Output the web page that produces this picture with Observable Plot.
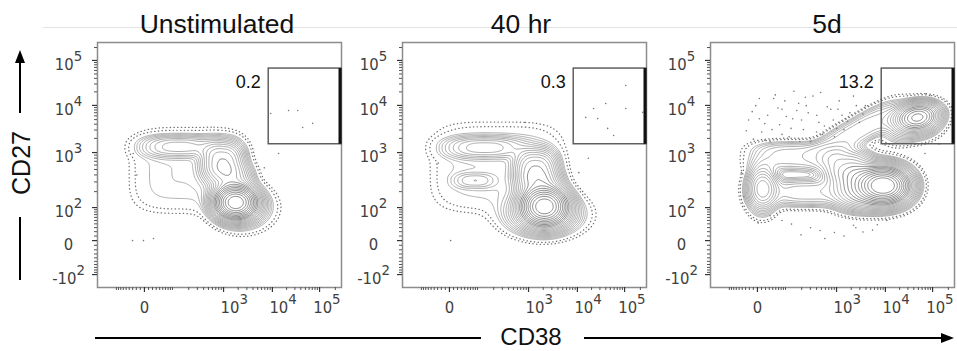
<!DOCTYPE html>
<html><head><meta charset="utf-8">
<script src="https://cdn.jsdelivr.net/npm/d3@7"></script>
<script src="https://cdn.jsdelivr.net/npm/@observablehq/plot@0.6"></script>
<style>
body{margin:0;background:#fff;}
#chart{position:relative;width:957px;height:351px;overflow:hidden;background:#fff;}
</style></head><body><div id="chart"></div>
<script>
// ---------------- data ----------------
const panelTitles = ["Unstimulated", "40 hr", "5d"];
const gatePercents = ["0.2", "0.3", "13.2"];
const gateCD38 = [8400, 262144];   // raw fluorescence
const gateCD27 = [1500, 66000];

// logicle-like display calibration (raw value -> display channel 0..1024)
const cd38CalValues   = [-100, 0, 100, 1e3, 1e4, 1e5, 262144];
const cd38CalChannels = [71, 197, 323, 529, 734, 932, 1024];
const cd27CalValues   = [-100, 0, 100, 1e3, 1e4, 1e5, 262144];
const cd27CalChannels = [54, 196, 334, 564, 761, 949, 1024];

const cd38TickValues = [0, 1e3, 1e4, 1e5];
const cd38TickLabels = ["0", "10^3", "10^4", "10^5"];
const cd27TickValues = [-100, 0, 100, 1e3, 1e4, 1e5];
const cd27TickLabels = ["-10^2", "0", "10^2", "10^3", "10^4", "10^5"];

// cell populations per sample, in display channels (CD38 x, CD27 y)
// Unstimulated: core, secondary, bridge, upper lobe, plateau, halo
const unstimCenterCD38 = [580, 525, 567, 340, 378, 609];
const unstimCenterCD27 = [355, 523, 439, 589, 489, 334];
const unstimSpreadCD38 = [42, 55, 55, 101, 189, 67];
const unstimSpreadCD27 = [33, 54, 50, 29, 138, 50];
const unstimWeight     = [1, 0.1, 0.05, 0.03, 0.007, 0.03];
const unstimShape      = [2, 2.5, 2.5, 2.5, 4, 2];
const unstimTilt       = [0, 0, 0, 0, 0, 0];

// 40 hr: core, halo, secondary, bridge, upper lobe, tongue, plateau
const hr40CenterCD38 = [596, 588, 559, 580, 344, 302, 399];
const hr40CenterCD27 = [339, 305, 489, 414, 585, 447, 502];
const hr40SpreadCD38 = [46, 84, 55, 59, 109, 59, 218];
const hr40SpreadCD27 = [38, 46, 54, 50, 29, 21, 146];
const hr40Weight     = [1, 0.06, 0.1, 0.05, 0.03, 0.012, 0.007];
const hr40Shape      = [2, 2, 2.5, 2.5, 2.5, 2.5, 4];
const hr40Tilt       = [0, 0, 0, 0, 0, 0, 0];

// 5 d: main peak, main broad, upper-left ext, left peak, horizontal band, top-right, band A, band B, top-right halo
const d5CenterCD38 = [727, 672, 567, 218, 399, 869, 357, 609, 840];
const d5CenterCD27 = [426, 425, 510, 414, 397, 711, 548, 648, 690];
const d5SpreadCD38 = [50, 92, 67, 34, 118, 46, 134, 147, 76];
const d5SpreadCD27 = [33, 58, 46, 50, 38, 29, 44, 42, 50];
const d5Weight     = [1, 0.2, 0.06, 0.1, 0.03, 0.3, 0.022, 0.022, 0.03];
const d5Shape      = [2, 2.5, 2.5, 2, 2.5, 2, 3, 3, 2.5];
const d5Tilt       = [0, 0, 0, 0, 0, 10, 0, 30, 10];

// isolated events (display channels)
const unstimDotsCD38 = [802, 840, 861, 903, 727, 147, 193, 235, 760, 700, 150, 165];
const unstimDotsCD27 = [740, 740, 669, 686, 727, 196, 196, 205, 560, 500, 560, 470];
const hr40DotsCD38 = [937, 802, 853, 937, 1008, 819, 861, 886, 769, 202, 780, 740, 150];
const hr40DotsCD27 = [844, 748, 769, 748, 732, 706, 665, 635, 711, 196, 540, 480, 520];
const d5DotsCD38 = [160, 190, 215, 240, 265, 290, 300, 330, 345, 370, 390, 410, 430, 455, 470, 490, 515, 540, 560, 585, 600, 625, 650, 250, 420, 180, 520, 350,
                    175, 205, 228, 258, 283, 318, 338, 362, 382, 402, 446, 478, 505, 530, 552, 575, 612, 640, 205, 272, 312, 398, 462, 535, 150, 228, 300, 375, 445,
                    300, 420, 520, 600, 680, 250, 740, 380, 130, 140, 900, 960, 340, 460, 560, 640, 700, 200, 480, 610];
const d5DotsCD27 = [700, 760, 650, 720, 790, 680, 745, 630, 705, 770, 660, 730, 800, 690, 640, 755, 700, 780, 660, 730, 800, 690, 760, 610, 610, 620, 630, 820,
                    735, 705, 685, 660, 750, 715, 665, 740, 700, 760, 720, 675, 745, 665, 720, 695, 760, 725, 790, 805, 780, 795, 815, 745, 655, 615, 640, 610, 650,
                    280, 250, 230, 260, 240, 300, 280, 220, 480, 380, 560, 600, 265, 238, 215, 232, 262, 270, 205, 250];

const contourLevels = [];
for (let l = 0.78; l > 0.0045; l *= 0.78) contourLevels.push(l);
const sparseLevels = [0.0028, 0.0017];

// ---------------- helpers ----------------
const g = v => Math.asinh(v / 50);
const sx38 = d3.scaleLinear().domain(cd38CalValues.map(g)).range(cd38CalChannels);
const sy27 = d3.scaleLinear().domain(cd27CalValues.map(g)).range(cd27CalChannels);
const toX = v => sx38(g(v));
const toY = v => sy27(g(v));

function comps(cx, cy, sx, sy, w, p, t) {
  return cx.map((_, i) => ({cx: cx[i], cy: cy[i], sx: sx[i], sy: sy[i], w: w[i], p: p[i], a: t[i] * Math.PI / 180}));
}
const samples = [
  {pct: gatePercents[0], comps: comps(unstimCenterCD38, unstimCenterCD27, unstimSpreadCD38, unstimSpreadCD27, unstimWeight, unstimShape, unstimTilt), dx: unstimDotsCD38, dy: unstimDotsCD27},
  {pct: gatePercents[1], comps: comps(hr40CenterCD38, hr40CenterCD27, hr40SpreadCD38, hr40SpreadCD27, hr40Weight, hr40Shape, hr40Tilt), dx: hr40DotsCD38, dy: hr40DotsCD27},
  {pct: gatePercents[2], comps: comps(d5CenterCD38, d5CenterCD27, d5SpreadCD38, d5SpreadCD27, d5Weight, d5Shape, d5Tilt), dx: d5DotsCD38, dy: d5DotsCD27}
];

function density(cs, x, y) {
  let s = 0;
  for (const c of cs) {
    const dx = x - c.cx, dy = y - c.cy, ca = Math.cos(c.a), sa = Math.sin(c.a);
    const u = (dx * ca + dy * sa) / c.sx, v = (-dx * sa + dy * ca) / c.sy;
    s += c.w * Math.exp(-0.5 * (Math.pow(Math.abs(u), c.p) + Math.pow(Math.abs(v), c.p)));
  }
  return s;
}
const N = 256;
function grid(cs) {
  const vals = new Array(N * N);
  for (let j = 0; j < N; j++) {
    const y = (j + 0.5) * 1024 / N;
    for (let i = 0; i < N; i++) vals[j * N + i] = density(cs, (i + 0.5) * 1024 / N, y);
  }
  return vals;
}

const minorRaw = [];
for (let v = -90; v <= 90; v += 10) if (v !== 0) minorRaw.push(v);
for (const e of [100, 1000, 10000]) for (let m = 2; m <= 9; m++) minorRaw.push(m * e);
minorRaw.push(200000);

const tickFont = '"DejaVu Sans Condensed","DejaVu Sans",sans-serif';
const sansFont = '"Liberation Sans",Arial,sans-serif';
const frameLefts = [97, 402, 710];
const ML = 58, MT = 6;
const chart = document.getElementById("chart");

const ns = "http://www.w3.org/2000/svg";
const ov = d3.select(chart).append("svg").attr("width", 957).attr("height", 351)
  .style("position", "absolute").style("left", "0px").style("top", "0px");
ov.append("line").attr("x1", 43).attr("x2", 957).attr("y1", 27.5).attr("y2", 27.5).attr("stroke", "#e2e2e2");

samples.forEach((s, k) => {
  const vals = grid(s.comps);
  const common = {width: N, height: N, x1: 0, y1: 0, x2: 1024, y2: 1024, value: Plot.identity, fill: "none"};
  const gx1 = toX(gateCD38[0]), gx2 = 1024, gy1 = toY(gateCD27[0]), gy2 = toY(gateCD27[1]);
  const svg = Plot.plot({
    width: 310, height: 291, marginLeft: ML, marginRight: 8, marginTop: MT, marginBottom: 40,
    style: {background: "transparent", overflow: "visible"},
    x: {domain: [0, 1024], axis: null},
    y: {domain: [0, 1024], axis: null},
    marks: [
      Plot.contour(vals, {...common, thresholds: sparseLevels, stroke: "#707070", strokeWidth: 1.3, strokeDasharray: "0.3 3.4", strokeLinecap: "round"}),
      Plot.contour(vals, {...common, thresholds: contourLevels.filter(l => l < 0.01), stroke: "#999", strokeWidth: 0.8}),
      Plot.contour(vals, {...common, thresholds: contourLevels.filter(l => l >= 0.01 && l < 0.1), stroke: "#8c8c8c", strokeWidth: 0.75}),
      Plot.contour(vals, {...common, thresholds: contourLevels.filter(l => l >= 0.1), stroke: "#6a6a6a", strokeWidth: 0.8}),
      Plot.dot(s.dx.map((_, i) => i), {x: i => s.dx[i], y: i => s.dy[i], r: 0.8, fill: "#777", stroke: null}),
      Plot.frame({stroke: "#8c8c8c", strokeWidth: 1.5}),
      Plot.rect([0], {x1: () => gx1, x2: () => gx2, y1: () => gy1, y2: () => gy2, fill: "none", stroke: "#555", strokeWidth: 1.4}),
      Plot.ruleX([0], {x: () => gx2, y1: () => gy1, y2: () => gy2, stroke: "#111", strokeWidth: 3, dx: -1.5}),
      Plot.text([s.pct], {x: () => gx1, y: () => gy2, text: d => d, textAnchor: "end", lineAnchor: "top", dx: -8, dy: 7, fontSize: 18, fontFamily: sansFont, fill: "#111"}),
      Plot.axisY({ticks: minorRaw.map(toY), tickSize: 3, tickFormat: () => "", stroke: "#555", label: null}),
      Plot.axisY({ticks: cd27TickValues.map(toY), tickSize: 5, tickFormat: () => "", stroke: "#333", strokeWidth: 1.2, label: null}),
      Plot.axisX({ticks: minorRaw.map(toX), tickSize: 3, tickFormat: () => "", stroke: "#555", label: null}),
      Plot.axisX({ticks: cd38TickValues.map(toX), tickSize: 5, tickFormat: () => "", stroke: "#333", strokeWidth: 1.2, label: null}),
      Plot.text(cd27TickValues, {y: v => toY(v), text: (v, i) => cd27TickLabels[i], frameAnchor: "left", dx: -29, dy: 4, textAnchor: "middle", fontSize: 16.5, fontFamily: tickFont, fill: "#404040"}),
      Plot.text(cd38TickValues.slice(0, 1), {x: v => toX(v), text: (v, i) => cd38TickLabels[i], frameAnchor: "bottom", dy: 25, textAnchor: "middle", fontSize: 16.5, fontFamily: tickFont, fill: "#404040"}),
      Plot.text(cd38TickValues.slice(1, 3), {x: v => toX(v), text: (v, i) => cd38TickLabels[i + 1], frameAnchor: "bottom", dy: 25, dx: -3, textAnchor: "start", fontSize: 16.5, fontFamily: tickFont, fill: "#404040"}),
      Plot.text(cd38TickValues.slice(3), {x: v => toX(v), text: (v, i) => cd38TickLabels[i + 3], frameAnchor: "bottom", dy: 25, dx: 21, textAnchor: "end", fontSize: 16.5, fontFamily: tickFont, fill: "#404040"})
    ]
  });
  svg.querySelectorAll("text").forEach(t => {
    const str = t.textContent;
    if (str.includes("^")) {
      const [b, e] = str.split("^");
      t.textContent = "";
      const t1 = document.createElementNS(ns, "tspan"); t1.textContent = b;
      const t2 = document.createElementNS(ns, "tspan"); t2.setAttribute("dy", "-0.6em"); t2.setAttribute("font-size", "0.9em"); t2.textContent = e;
      t.append(t1, t2);
    }
  });
  svg.style.position = "absolute";
  svg.style.left = (frameLefts[k] - ML) + "px";
  svg.style.top = (42 - MT) + "px";
  svg.style.maxWidth = "none";
  chart.appendChild(svg);
});

// titles
const titleX = [217, 521, 827];
panelTitles.forEach((t, k) => {
  ov.append("text").attr("x", titleX[k]).attr("y", 33).attr("text-anchor", "middle")
    .attr("font-family", sansFont).attr("font-size", 26.5).attr("fill", "#111").text(t);
});
// axis titles and arrows
ov.append("text").attr("transform", "translate(21,163) rotate(-90)").attr("text-anchor", "middle").attr("dy", "0.36em")
  .attr("font-family", sansFont).attr("font-size", 25).attr("fill", "#111").text("CD27");
ov.append("text").attr("x", 531).attr("y", 345).attr("text-anchor", "middle")
  .attr("font-family", sansFont).attr("font-size", 24).attr("fill", "#111").text("CD38");
ov.append("line").attr("x1", 20).attr("x2", 20).attr("y1", 280).attr("y2", 217).attr("stroke", "#000").attr("stroke-width", 2);
ov.append("line").attr("x1", 20).attr("x2", 20).attr("y1", 113).attr("y2", 60).attr("stroke", "#000").attr("stroke-width", 2);
ov.append("path").attr("d", "M20,50 L15,63 L25,63 Z").attr("fill", "#000");
ov.append("line").attr("x1", 95).attr("x2", 481).attr("y1", 338).attr("y2", 338).attr("stroke", "#000").attr("stroke-width", 2);
ov.append("line").attr("x1", 584).attr("x2", 942).attr("y1", 338).attr("y2", 338).attr("stroke", "#000").attr("stroke-width", 2);
ov.append("path").attr("d", "M954,338 L941,333 L941,343 Z").attr("fill", "#000");
</script></body></html>
